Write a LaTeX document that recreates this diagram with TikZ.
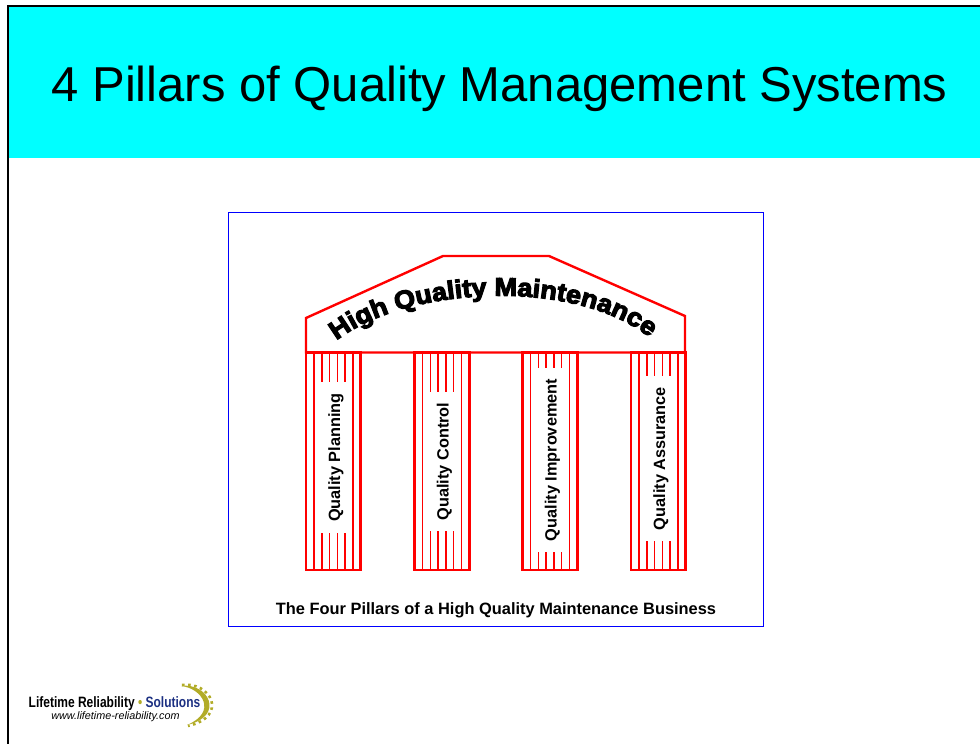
\documentclass[tikz,border=0pt]{standalone}
\usepackage{fontspec}
\usetikzlibrary{decorations.text}
\setmainfont{Liberation Sans}
\newfontfamily\archfont[FakeBold=4.5,FakeStretch=1.06]{Liberation Sans Bold}

\definecolor{banner}{RGB}{0,255,255}
\definecolor{gearcolor}{RGB}{178,172,40}
\definecolor{logoblue}{RGB}{28,48,130}

\tikzset{
    pillarline/.style={red, line width=1.5pt},
    pillarbox/.style={draw=red, line width=2.8pt, line join=miter},
    pillarlabel/.style={fill=white, rotate=90, inner sep=0pt, minimum height=37pt,
        font=\bfseries\fontsize{16.3}{16.3}\selectfont}
}

\begin{document}
\begin{tikzpicture}[x=1pt,y=-1pt]
    \useasboundingbox (0,0) rectangle (980,744);

    % Banner and slide frame
    \fill[banner] (8,6) rectangle (980,158);
    \draw[line width=2.4pt] (8,744) -- (8,6) -- (980,6);
    \node (title) at (499.5,89) {\fontsize{49}{49}\selectfont 4 Pillars of Quality Management Systems};

    % Blue box
    \draw[blue, line width=0.8pt] (228,212) rectangle (763,626);

    % Roof
    \draw[red, line width=2.4pt, line join=miter]
        (306,352.5) -- (306,318) -- (443,256) -- (549,256) -- (685,316) -- (685,352.5) -- cycle;
    \path[decorate, decoration={text along path, text align=center,
        text={|\archfont\fontsize{25.5}{25.5}\selectfont|High Quality Maintenance}}]
        (331,345) .. controls (400,285) and (580,275) .. (655,342);

    % Pillars: left edge / label / top and bottom of the white part
    \foreach \x/\name/\top/\bot in {306/Quality Planning/382/533,
                                    414.5/Quality Control/392/531,
                                    522.5/Quality Improvement/368/552,
                                    631/Quality Assurance/376/541} {
        \foreach \k in {1,...,6} {
            \draw[pillarline] ({\x+8+(\k-1)*7.8},352.5) -- ({\x+8+(\k-1)*7.8},570);
        }
        \node[pillarlabel, minimum width={\bot-\top}] at ({\x+30},{(\top+\bot)/2}) {\name};
        \draw[pillarline] (\x+8,352.5) -- (\x+8,570);
        \draw[pillarline] (\x+47,352.5) -- (\x+47,570);
        \draw[pillarbox] (\x,352.5) rectangle (\x+54.7,570);
    }

    % Caption
    \node[font=\bfseries\fontsize{16.4}{16.4}\selectfont] (caption) at (496,610) {The Four Pillars of a High Quality Maintenance Business};

    % Logo
    \fill[gearcolor] (181,686) .. controls (208,682) and (226,716) .. (187,725)
        .. controls (218,712) and (202,688) .. (181,686);
    \draw[gearcolor, line width=2.6pt, dash pattern=on 2.6pt off 3.5pt]
        (182,685) .. controls (210,681) and (230,716) .. (188,726);
    \node[xscale=0.8, font=\bfseries\fontsize{15}{15}\selectfont] (logo) at (114.5,703.5)
        {Lifetime Reliability \textcolor{gearcolor}{•} \textcolor{logoblue}{Solutions}};
    \node[font=\itshape\fontsize{10.8}{10.8}\selectfont] (url) at (115.5,717) {www.lifetime-reliability.com};
\end{tikzpicture}
\end{document}
